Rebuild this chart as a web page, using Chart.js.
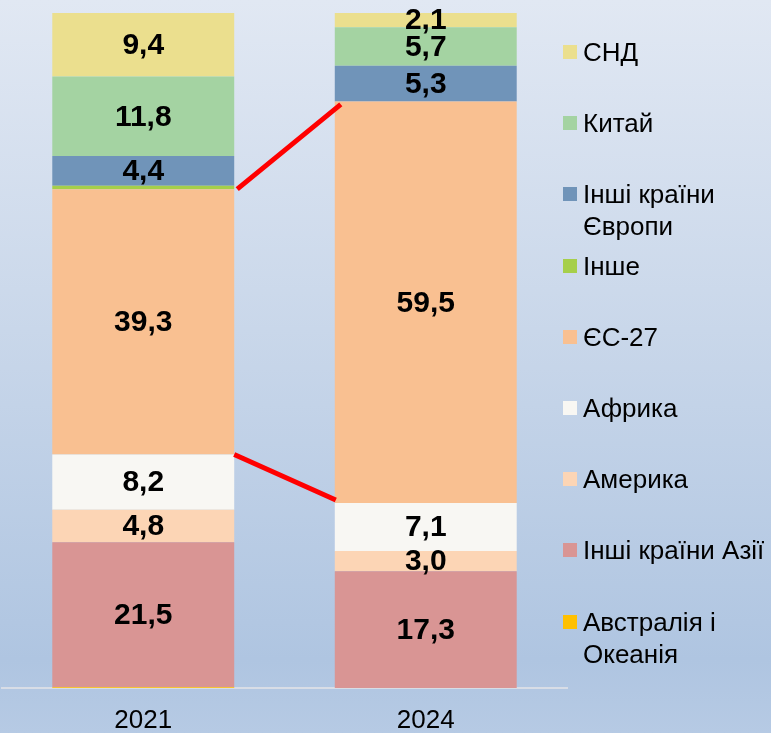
<!DOCTYPE html>
<html>
<head>
<meta charset="utf-8">
<script src="https://cdn.jsdelivr.net/npm/chart.js@4.4.1/dist/chart.umd.min.js"></script>
<style>
  html, body { margin: 0; padding: 0; }
  body { width: 771px; height: 733px; overflow: hidden;
         background: linear-gradient(to bottom, #e1e8f3 0%, #c9d7ea 45%, #afc5e1 90%, #b6cae4 100%);
         font-family: "Liberation Sans", Arial, sans-serif; }
  #wrap { position: relative; width: 771px; height: 733px; }
  canvas { position: absolute; left: 0; top: 0; }
  #legend { position: absolute; left: 0; top: 0; }
  .item { position: absolute; left: 563px; font-size: 26px; line-height: 32px; color: #000; white-space: nowrap; }
  .box { position: absolute; left: 0; top: 9px; width: 14px; height: 14px; }
  .txt { position: absolute; left: 20px; top: 0; }
</style>
</head>
<body>
<div id="wrap">
  <canvas id="c" width="771" height="733"></canvas>
  <div id="legend"></div>
</div>
<script>
// categories (years)
const years = ["2021", "2024"];
// series, in stacking order from bottom to top
const seriesNames = ["Австралія і Океанія", "Інші країни Азії", "Америка", "Африка", "ЄС-27", "Інше", "Інші країни Європи", "Китай", "СНД"];
const legendLines = [["Австралія і", "Океанія"], ["Інші країни Азії"], ["Америка"], ["Африка"], ["ЄС-27"], ["Інше"], ["Інші країни", "Європи"], ["Китай"], ["СНД"]];
const australia = [0.1, 0.0];
const asiaOther = [21.5, 17.3];
const america = [4.8, 3.0];
const africa = [8.2, 7.1];
const eu27 = [39.3, 59.5];
const other = [0.5, 0.0];
const europeOther = [4.4, 5.3];
const china = [11.8, 5.7];
const cis = [9.4, 2.1];
const seriesValues = [australia, asiaOther, america, africa, eu27, other, europeOther, china, cis];
const seriesColors = ["#ffc000", "#d99594", "#fcd5b5", "#f8f7f3", "#f9c091", "#a6cf4a", "#7094b9", "#a4d3a2", "#ebdf8e"];

const datasets = seriesNames.map((n, i) => ({
  label: n,
  data: seriesValues[i],
  backgroundColor: seriesColors[i],
  borderWidth: 0,
  categoryPercentage: 1.0,
  barPercentage: 0.644
}));

const labelPlugin = {
  id: 'valueLabels',
  afterDatasetsDraw(chart) {
    const ctx = chart.ctx;
    ctx.save();
    ctx.font = 'bold 30px "Liberation Sans", Arial, sans-serif';
    ctx.fillStyle = '#000';
    ctx.textAlign = 'center';
    ctx.textBaseline = 'middle';
    chart.data.datasets.forEach((ds, di) => {
      const meta = chart.getDatasetMeta(di);
      meta.data.forEach((bar, j) => {
        const v = ds.data[j];
        if (v < 1) return;
        const y = (bar.y + bar.base) / 2;
        ctx.fillText(v.toFixed(1).replace('.', ','), bar.x, y + 1);
      });
    });
    ctx.restore();
  }
};

const connectorPlugin = {
  id: 'connectors',
  afterDatasetsDraw(chart) {
    const di = seriesNames.indexOf("ЄС-27");
    const meta = chart.getDatasetMeta(di);
    const a = meta.data[0], b = meta.data[1];
    const ctx = chart.ctx;
    ctx.save();
    ctx.strokeStyle = '#ff0000';
    ctx.lineWidth = 5;
    ctx.beginPath();
    ctx.moveTo(a.x + a.width / 2 + 3, a.y);
    ctx.lineTo(b.x - b.width / 2 + 6, b.y + 3);
    ctx.moveTo(a.x + a.width / 2, a.base);
    ctx.lineTo(b.x - b.width / 2 + 1, b.base - 3);
    ctx.stroke();
    ctx.restore();
  }
};

new Chart(document.getElementById('c'), {
  type: 'bar',
  data: { labels: years, datasets },
  options: {
    responsive: false,
    animation: false,
    layout: { padding: { left: 2, right: 204, top: 13, bottom: -21 } },
    plugins: { legend: { display: false }, tooltip: { enabled: false } },
    scales: {
      x: {
        stacked: true,
        grid: { display: false, drawTicks: false },
        border: { display: true, color: '#d8dde6', width: 2 },
        ticks: { color: '#000', padding: 20, font: { family: '"Liberation Sans", Arial, sans-serif', size: 26, lineHeight: 1.0 } }
      },
      y: {
        stacked: true,
        display: false,
        min: 0,
        max: 100
      }
    }
  },
  plugins: [labelPlugin, connectorPlugin]
});

// legend (reverse of stacking order)
const legend = document.getElementById('legend');
for (let k = 0; k < seriesNames.length; k++) {
  const i = seriesNames.length - 1 - k;
  const item = document.createElement('div');
  item.className = 'item';
  item.style.top = (52 + k * 71.2 - 16) + 'px';
  const box = document.createElement('div');
  box.className = 'box';
  box.style.background = seriesColors[i];
  const txt = document.createElement('div');
  txt.className = 'txt';
  txt.innerHTML = legendLines[i].join('<br>');
  item.appendChild(box);
  item.appendChild(txt);
  legend.appendChild(item);
}
</script>
</body>
</html>
